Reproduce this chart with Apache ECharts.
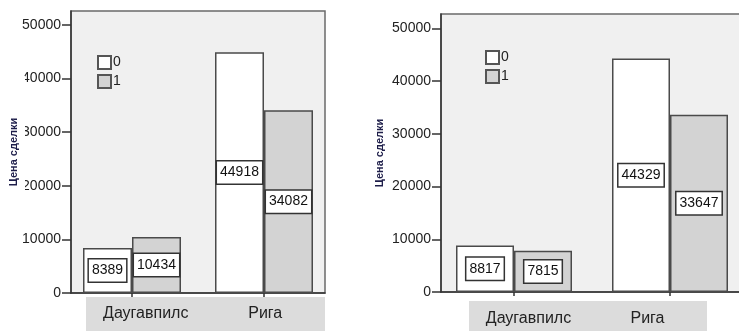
<!DOCTYPE html>
<html>
<head>
<meta charset="utf-8">
<script src="https://cdn.jsdelivr.net/npm/echarts@6/dist/echarts.min.js"></script>
<style>
html,body{margin:0;padding:0;background:#fff;}
#c{width:739px;height:331px;}
</style>
</head>
<body>
<div id="c"></div>
<script>
const categories = ['Даугавпилс', 'Рига'];
const seriesNames = ['0', '1'];
const leftValues0 = [8389, 44918];
const leftValues1 = [10434, 34082];
const rightValues0 = [8817, 44329];
const rightValues1 = [7815, 33647];
const yTickValues = [0, 10000, 20000, 30000, 40000, 50000];
const axisTitle = 'Цена сделки';

const FONT = 'Arial, "Liberation Sans", sans-serif';
const fills = ['#ffffff', '#d3d3d3'];

function buildPanel(p) {
  const g0 = p.gridBase, x0 = p.xBase, y0 = p.yBase;
  const gridBase = { containLabel: false, outerBoundsMode: 'none' };
  const grids = [
    Object.assign({ left: p.frameLeft, top: p.top, width: p.frameWidth, height: p.height,
      show: true, backgroundColor: '#f0f0f0', borderColor: '#6a6a6a', borderWidth: 1.5 }, gridBase),
    Object.assign({ left: p.barLeft, top: p.top, width: p.barWidthTotal, height: p.height }, gridBase),
    Object.assign({ left: p.bandLeft, top: p.bandTop, width: p.bandWidth, height: p.bandHeight,
      show: true, backgroundColor: '#dcdcdc', borderWidth: 0 }, gridBase)
  ];
  const xAxes = [
    { gridIndex: g0, type: 'value', min: 0, max: 1, position: 'bottom',
      axisLine: { show: true, lineStyle: { color: '#333', width: 1.5 } },
      axisTick: { show: false }, axisLabel: { show: false }, splitLine: { show: false } },
    { gridIndex: g0 + 1, type: 'category', data: categories, position: 'bottom',
      axisLine: { show: false },
      axisTick: { show: true, alignWithLabel: true, length: 4, lineStyle: { color: '#333', width: 1.5 } },
      axisLabel: { show: false }, splitLine: { show: false } },
    { gridIndex: g0 + 2, type: 'category', data: categories, position: 'top',
      axisLine: { show: false }, axisTick: { show: false },
      axisLabel: { show: true, inside: true, margin: p.bandLabelMargin, verticalAlign: 'middle',
        fontFamily: FONT, fontSize: 16, color: '#222' },
      splitLine: { show: false } }
  ];
  const yAxes = [
    { gridIndex: g0, type: 'value', min: 0, max: p.yMax, position: 'left',
      axisLine: { show: true, lineStyle: { color: '#333', width: 1.5 } },
      axisTick: { show: true, length: 9, customValues: yTickValues, lineStyle: { color: '#333', width: 1.5 } },
      axisLabel: { show: true, margin: 10, customValues: yTickValues, formatter: v => String(v),
        fontFamily: FONT, fontSize: 14, color: '#222' },
      splitLine: { show: false } },
    { gridIndex: g0 + 1, type: 'value', min: 0, max: p.yMax, show: false },
    { gridIndex: g0 + 2, type: 'value', min: 0, max: 1, show: false },
    { gridIndex: g0, type: 'value', min: 0, max: p.yMax, position: 'left', offset: 0, z: 30,
      name: axisTitle, nameLocation: 'middle', nameGap: p.nameGap,
      nameTextStyle: Object.assign({ fontFamily: FONT, fontSize: 11, fontWeight: 'bold', color: '#1e1e4a' }, p.nameExtra || {}),
      axisLine: { show: false }, axisTick: { show: false }, axisLabel: { show: false }, splitLine: { show: false } }
  ];
  const label = {
    show: true, position: 'inside', fontFamily: FONT, fontSize: 14, color: '#111',
    backgroundColor: '#ffffff', borderColor: '#333', borderWidth: 1.5, padding: [4, 3, 4, 3], lineHeight: 14
  };
  const series = [p.values0, p.values1].map((vals, i) => ({
    name: seriesNames[i], type: 'bar', xAxisIndex: x0 + 1, yAxisIndex: y0 + 1,
    data: vals, barWidth: p.barWidth, barGap: '0%',
    itemStyle: { color: fills[i], borderColor: '#4a4a4a', borderWidth: 1.5 },
    label: label, silent: true, animation: false
  }));
  const legend = {
    data: seriesNames, orient: 'vertical', left: p.legendLeft, top: p.legendTop,
    padding: 0, itemGap: 4, itemWidth: 13, itemHeight: 13, icon: 'rect',
    itemStyle: { borderColor: '#555', borderWidth: 2 },
    textStyle: { fontFamily: FONT, fontSize: 14, color: '#222', lineHeight: 14, padding: [0, 0, 0, -3] },
    selectedMode: false
  };
  return { grids, xAxes, yAxes, series, legend };
}

const left = buildPanel({
  gridBase: 0, xBase: 0, yBase: 0, values0: leftValues0, values1: leftValues1,
  frameLeft: 71, frameWidth: 254, top: 11, height: 282,
  barLeft: 66, barWidthTotal: 264, barWidth: 49,
  bandLeft: 86, bandTop: 297, bandWidth: 239, bandHeight: 34, bandLabelMargin: 17,
  yMax: 52600, nameGap: 46,
  nameExtra: { backgroundColor: '#ffffff', padding: [2, 42, 6, 42] },
  legendLeft: 97, legendTop: 55
});
const right = buildPanel({
  gridBase: 3, xBase: 3, yBase: 4, values0: rightValues0, values1: rightValues1,
  frameLeft: 441, frameWidth: 302, top: 14, height: 278,
  barLeft: 436, barWidthTotal: 312, barWidth: 58,
  bandLeft: 469, bandTop: 301, bandWidth: 238, bandHeight: 30, bandLabelMargin: 18,
  yMax: 52750, nameGap: 56,
  legendLeft: 485, legendTop: 50
});

const chart = echarts.init(document.getElementById('c'), null, { renderer: 'canvas' });
chart.setOption({
  animation: false,
  backgroundColor: '#ffffff',
  grid: left.grids.concat(right.grids),
  xAxis: left.xAxes.concat(right.xAxes),
  yAxis: left.yAxes.concat(right.yAxes),
  legend: [left.legend, right.legend],
  series: left.series.concat(right.series)
});
</script>
</body>
</html>
